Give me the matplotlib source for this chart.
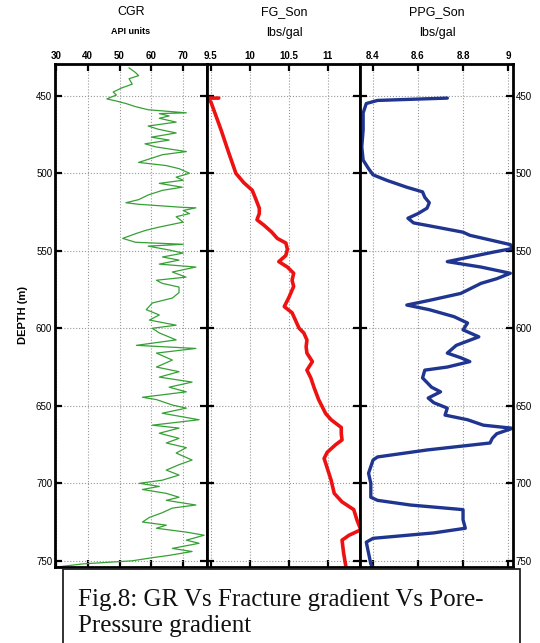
import matplotlib
matplotlib.use("Agg")
import matplotlib.pyplot as plt
from matplotlib.patches import Rectangle

# CGR (API units) vs depth
cgr_depth = [432, 435, 437, 439, 442.5, 445, 447.6, 449.5, 452, 453.4, 455, 457, 459, 461, 461.5,
             463, 464.5, 467, 469.5, 471.5, 474, 476.7, 478.6, 481, 483, 486, 488, 491,
             493, 495, 497, 500, 502.5, 504.5, 506.5, 509, 511, 514, 517, 519, 520, 522, 522.3,
             524, 526, 528, 531.5, 534.7, 536.7, 539, 542, 544.5, 545.8, 547, 549.5, 551.5,
             554, 556, 558.6, 560.5, 563.7, 567, 569, 571, 573.4, 577, 580.5, 583.7, 588,
             591.4, 594.7, 598, 600, 603, 607.5, 611, 613, 616, 620.5, 625, 628, 631.5,
             634.7, 638, 641, 644.5, 646, 649.5, 651.5, 654.8, 659, 662.5, 664.4, 667.7, 671,
             674, 677, 680.5, 685, 688, 691.5, 694.7, 698, 700, 702, 704, 706.5, 709, 711,
             714, 716, 719, 722, 725, 727, 729, 731.5, 733.5, 736.7, 738.7, 742, 744, 746.5,
             748, 750, 752, 754]
cgr_vals = [53, 55, 56, 53, 54, 50.6, 48, 49, 46, 49, 52, 55, 59, 71, 62.5,
            65.6, 62.5, 67.8, 59, 62, 67.8, 60, 65.6, 58, 61.5, 71, 63.5, 59,
            56, 64.6, 68.7, 72, 67.8, 70, 62.5, 69.7, 63.5, 59, 56, 52, 56, 70, 74,
            70, 72, 67.8, 70, 62.5, 58.4, 55, 51, 55, 70, 59, 65.6, 70,
            63.5, 68.7, 62.5, 74, 66.6, 70.9, 61.6, 63.4, 68.7, 68.7, 66.6, 60.3, 58.4,
            62.5, 59.4, 67.8, 60.3, 62.5, 67.8, 55.3, 74, 61.6, 66.6, 61.6, 68.7, 62.5,
            72.8, 65.6, 71, 57.2, 61.6, 66.6, 71, 63.4, 75, 60.3, 68.7, 62.5, 68.7,
            64.7, 71, 67.8, 72.8, 68.7, 64.7, 68.7, 63.4, 56.25, 62.5, 57.2, 64.7, 68.7, 64.7,
            74, 66.6, 63.4, 59.4, 57.2, 64.7, 61.6, 71, 76.6, 71, 75, 66.6, 72.8, 65.6,
            60.3, 54, 38.4, 30.3]

# FG_Son (lbs/gal)
fg_depth = [451.5, 451.5, 454, 472, 487, 500, 506, 511, 516, 522.5, 526, 530, 533.5, 538, 542,
            545, 549, 553, 557, 560.5, 564.5, 569, 573, 580, 586, 590, 600, 603, 607.5, 612,
            616, 621.5, 627, 632, 638, 646, 655, 659, 664, 668, 672, 675, 680, 684, 687, 698,
            706.5, 712, 717, 723.5, 730, 733.5, 736.7, 745, 754]
fg_vals = [9.60, 9.45, 9.5, 9.63, 9.73, 9.82, 9.92, 10.03, 10.07, 10.12, 10.12, 10.09, 10.18,
           10.28, 10.35, 10.46, 10.48, 10.46, 10.37, 10.48, 10.56, 10.54, 10.56, 10.5, 10.44,
           10.54, 10.63, 10.69, 10.73, 10.72, 10.73, 10.8, 10.73, 10.78, 10.82, 10.88, 10.97,
           11.04, 11.17, 11.17, 11.18, 11.1, 10.99, 10.95, 10.97, 11.04, 11.08, 11.18, 11.33,
           11.37, 11.42, 11.27, 11.18, 11.2, 11.23]

# PPG_Son (lbs/gal)
ppg_depth = [451.5, 453, 455, 461, 472, 483, 491.5, 497, 501, 504.5, 509, 512, 515.5, 519,
             522.5, 526, 529, 532, 534.7, 538, 540, 542, 546, 548.5, 551, 554, 557, 560.5,
             564.5, 568, 571, 577.5, 582, 585, 588, 592.5, 596.6, 601, 605.5, 611, 616, 619,
             621.5, 625, 627, 632, 638, 641, 645, 648, 651.5, 656, 659, 662.5, 664.5, 668,
             671, 674, 678.5, 683, 685, 693.5, 700, 709, 711, 714, 717, 723.5, 729, 732,
             735.5, 738, 745, 752, 755]
ppg_vals = [8.73, 8.42, 8.37, 8.356, 8.356, 8.35, 8.356, 8.38, 8.4, 8.46, 8.55, 8.62, 8.63,
            8.65, 8.64, 8.6, 8.555, 8.58, 8.68, 8.8, 8.83, 8.89, 9.01, 9.02, 8.93, 8.83, 8.73,
            8.88, 9.01, 8.95, 8.88, 8.79, 8.65, 8.55, 8.65, 8.76, 8.82, 8.8, 8.87, 8.77, 8.73,
            8.79, 8.83, 8.73, 8.63, 8.62, 8.66, 8.7, 8.645, 8.67, 8.73, 8.72, 8.82, 8.89, 9.02,
            8.95, 8.93, 8.92, 8.64, 8.42, 8.4, 8.38, 8.39, 8.39, 8.42, 8.565, 8.8, 8.8, 8.81,
            8.67, 8.4, 8.37, 8.38, 8.39, 8.4]

depth_ticks = [450, 500, 550, 600, 650, 700, 750]
cgr_ticks = [30, 40, 50, 60, 70]
fg_ticks = [9.5, 10, 10.5, 11]
fg_ticklabels = ["9.5", "10", "10.5", "11"]
ppg_ticks = [8.4, 8.6, 8.8, 9.0]
ppg_ticklabels = ["8.4", "8.6", "8.8", "9"]

plt.rcParams['font.family'] = ['Liberation Sans', 'DejaVu Sans']

fig = plt.figure(figsize=(5.4, 6.43), dpi=100)
top = 1 - 64 / 643
bot = 1 - 567 / 643
h = top - bot
ax1 = fig.add_axes([55 / 540, bot, 152 / 540, h])
ax2 = fig.add_axes([207 / 540, bot, 153 / 540, h])
ax3 = fig.add_axes([360 / 540, bot, 153 / 540, h])

ax1.plot(cgr_vals, cgr_depth, color='#35a035', lw=0.9)
ax2.plot(fg_vals, fg_depth, color='#ee1111', lw=2.6, solid_capstyle='round')
ax3.plot(ppg_vals, ppg_depth, color='#1f3590', lw=2.4, solid_capstyle='round')

ax1.set_xlim(29.7, 77.5)
ax1.set_xticks(cgr_ticks)
ax2.set_xlim(9.45, 11.41)
ax2.set_xticks(fg_ticks)
ax2.set_xticklabels(fg_ticklabels)
ax3.set_xlim(8.342, 9.022)
ax3.set_xticks(ppg_ticks)
ax3.set_xticklabels(ppg_ticklabels)

for ax in (ax1, ax2, ax3):
    ax.set_ylim(754, 429.5)
    ax.set_yticks(depth_ticks)
    ax.grid(True, color='#999999', linestyle=':', linewidth=0.8)
    ax.tick_params(direction='in', length=5, width=1.6, top=True, bottom=True,
                   left=True, right=True, labeltop=True, labelbottom=False,
                   labelleft=False, labelright=False, labelsize=7, pad=2)
    for s in ax.spines.values():
        s.set_linewidth(2)
    for lab in ax.get_xticklabels() + ax.get_yticklabels():
        lab.set_fontweight('bold')

ax1.tick_params(labelleft=True)
ax3.tick_params(labelright=True)
ax1.set_ylabel('DEPTH (m)', fontsize=8, fontweight='bold', labelpad=6)

fig.text(131 / 540, 1 - 12 / 643, 'CGR', ha='center', va='center', fontsize=9)
fig.text(131 / 540, 1 - 31 / 643, 'API units', ha='center', va='center', fontsize=6.5, fontweight='bold')
fig.text(284 / 540, 1 - 12 / 643, 'FG_Son', ha='center', va='center', fontsize=9)
fig.text(284 / 540, 1 - 33 / 643, 'lbs/gal', ha='center', va='center', fontsize=9)
fig.text(437 / 540, 1 - 12 / 643, 'PPG_Son', ha='center', va='center', fontsize=9)
fig.text(437 / 540, 1 - 33 / 643, 'lbs/gal', ha='center', va='center', fontsize=9)

# caption box
fig.add_artist(Rectangle((63 / 540, -0.01), 457 / 540, 1 - 569 / 643 + 0.01,
                         transform=fig.transFigure, facecolor='white',
                         edgecolor='#222222', lw=1.3))
fig.text(78 / 540, 1 - 606 / 643, 'Fig.8: GR Vs Fracture gradient Vs Pore-',
         fontsize=18, family='Liberation Serif', va='baseline', color='#111111')
fig.text(78 / 540, 1 - 632 / 643, 'Pressure gradient',
         fontsize=18, family='Liberation Serif', va='baseline', color='#111111')

fig.savefig('out.png', dpi=100)
